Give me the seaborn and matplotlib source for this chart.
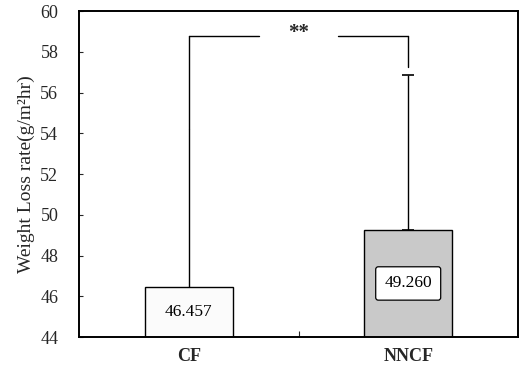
import matplotlib
matplotlib.use("Agg")
import matplotlib.pyplot as plt
import seaborn as sns
import pandas as pd
import numpy as np

categories = ["CF", "NNCF"]
means = [46.457, 49.260]
upper_err = [7.74, 7.60]
value_labels = ["46.457", "49.260"]
sig_text = "**"
sig_level = 58.8

sns.set_theme(style="white")
plt.rcParams['font.family'] = ['Liberation Serif', 'DejaVu Serif']

df = pd.DataFrame({"group": categories, "rate": means})

fig = plt.figure(figsize=(5.21, 3.72), dpi=100)
ax = fig.add_axes([0.152, 0.094, 0.842, 0.876])

sns.barplot(data=df, x="group", y="rate", hue="group",
            palette=["#fbfbfb", "#c9c9c9"], width=0.4, dodge=False,
            edgecolor="black", linewidth=1.0, legend=False, ax=ax, errorbar=None)

ymin = 44
xs = np.arange(len(categories))
tops = [m + e for m, e in zip(means, upper_err)]

# one-sided error bars (CF stem continues into bracket, NNCF has a cap)
ax.errorbar([xs[1]], [means[1]], yerr=[[0], [upper_err[1]]], fmt="none",
            ecolor="black", elinewidth=1.0, capsize=4, capthick=1.2, zorder=3)
ax.errorbar([xs[0]], [means[0]], yerr=[[0], [upper_err[0]]], fmt="none",
            ecolor="black", elinewidth=1.0, capsize=0, zorder=3)

# value labels
ax.text(xs[0], (ymin + means[0]) / 2, value_labels[0], ha="center", va="center",
        fontsize=12.5, color="black", zorder=5)
ax.text(xs[1], (ymin + means[1]) / 2, value_labels[1], ha="center", va="center",
        fontsize=12.5, color="black", zorder=5,
        bbox=dict(boxstyle="round,pad=0.5,rounding_size=0.15", facecolor="white",
                  edgecolor="black", linewidth=0.9))

# significance bracket
ax.plot([xs[0], xs[0]], [tops[0], sig_level], color="black", lw=1.0, zorder=4)
ax.plot([xs[0], 0.32], [sig_level, sig_level], color="black", lw=1.0, zorder=4)
ax.plot([0.68, xs[1]], [sig_level, sig_level], color="black", lw=1.0, zorder=4)
ax.plot([xs[1], xs[1]], [sig_level, tops[1] + 0.38], color="black", lw=1.0, zorder=4)
ax.text(0.5, sig_level + 0.15, sig_text, ha="center", va="center", fontsize=15,
        fontweight="bold")

ax.set_xlim(-0.5, 1.5)
ax.set_ylim(44, 60)
ax.set_yticks(np.arange(44, 61, 2))
ax.set_xticks(xs)
ax.set_xticklabels(categories, fontsize=13, fontweight="bold")
ax.set_xticks([0.5], minor=True)
ax.tick_params(axis="x", which="major", length=0, pad=8)
ax.tick_params(axis="x", which="minor", direction="in", length=4, width=0.8, bottom=True)
ax.tick_params(axis="y", direction="in", length=3, width=0.8, left=True, labelsize=13, pad=15)
ax.set_xlabel("")
ax.set_ylabel("Weight Loss rate(g/m²hr)", fontsize=14, labelpad=4)
for s in ax.spines.values():
    s.set_color("black")
    s.set_linewidth(1.4)

fig.savefig("out.png", dpi=100)
